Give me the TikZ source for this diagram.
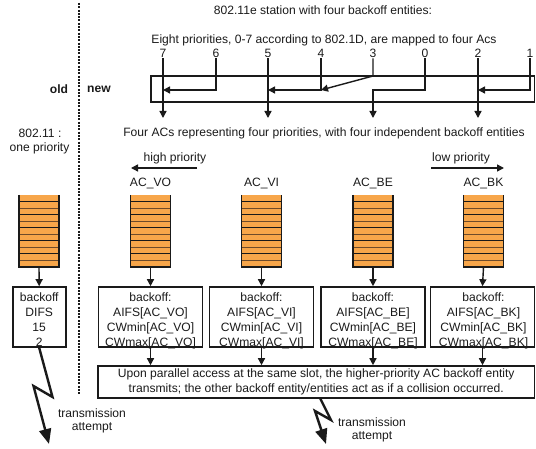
\documentclass[tikz,border=0pt]{standalone}
\usepackage{fontspec}
\setmainfont{Liberation Sans}
\usetikzlibrary{arrows.meta}
\definecolor{qorange}{HTML}{F7A64A}
\definecolor{qbrown}{HTML}{6E4B2A}
\definecolor{ink}{HTML}{1A1A1A}
\newcommand{\drawqueue}[2]{%
  \node[qnode] (#1) at (#2,231) {};
  \foreach \i in {1,3,...,9} {\draw[stripe] (#2-20,195+\i*6.545) -- (#2+20,195+\i*6.545);}
  \foreach \i in {2,4,...,10} {\draw[stripe,qbrown] (#2-20,195+\i*6.545) -- (#2+20,195+\i*6.545);}
  \draw[qside] (#2-20,195) -- (#2-20,267) -- (#2+20,267) -- (#2+20,195);
}
\begin{document}
\begin{tikzpicture}[x=1pt,y=-1pt,
  every node/.style={text=ink},
  lbl/.style={font=\fontsize{12.1}{14}\selectfont, inner sep=1pt},
  btxt/.style={font=\fontsize{12.1}{14.8}\selectfont, inner sep=0pt, align=center, anchor=base},
  mapline/.style={draw=ink, line width=1.4pt},
  arr/.style={draw=ink, line width=1.4pt, -{Triangle[length=7pt,width=7pt]}},
  bolt/.style={draw=ink, line width=2.4pt, line join=miter, -{Triangle[length=15pt,width=12pt]}},
  qnode/.style={fill=qorange, minimum width=40pt, minimum height=72pt, inner sep=0pt, draw=none},
  stripe/.style={draw=ink, line width=0.9pt},
  qside/.style={draw=ink, line width=1.8pt},
  bbox/.style={draw=ink, line width=1.6pt, minimum width=104pt, minimum height=60pt, inner sep=0pt},
  sep/.style={draw=ink, line width=1.5pt, dash pattern=on 2pt off 1.3pt}
]
\useasboundingbox (0,0) rectangle (536,449);

% separator
\coordinate (s1) at (79,3);
\coordinate (s2) at (79,395);
\draw[sep] (s1) -- (s2);
\node[lbl] (old) at (59,89) {\textbf{old}};
\node[lbl] (new) at (99,89) {\textbf{new}};

% titles
\node[lbl] (t1) at (323,10) {802.11e station with four backoff entities:};
\node[lbl] (t2) at (324,40) {Eight priorities, 0-7 according to 802.1D, are mapped to four Acs};
\node[lbl] (t3) at (324,133) {Four ACs representing four priorities, with four independent backoff entities};
\node[lbl] (o1) at (40,133) {802.11 :};
\node[lbl] (o2) at (39.5,148) {one priority};

% priority numbers
\node[lbl] (n7) at (163,53) {7};
\node[lbl] (n6) at (216,53) {6};
\node[lbl] (n5) at (268,53) {5};
\node[lbl] (n4) at (321,53) {4};
\node[lbl] (n3) at (373,53) {3};
\node[lbl] (n0) at (425,53) {0};
\node[lbl] (n2) at (478,53) {2};
\node[lbl] (n1) at (530,53) {1};

% mapping frame
\coordinate (fr1) at (151,76);
\coordinate (fr2) at (534.5,102);
\draw[mapline] (fr1) rectangle (fr2);
\coordinate (e7) at (163,118);
\coordinate (e5) at (268,118);
\coordinate (e0) at (373,118);
\coordinate (e2) at (478,118);
\coordinate (m7) at (163,90);
\coordinate (m5) at (268,90);
\coordinate (m4) at (321,90);
\coordinate (m0) at (373,90);
\coordinate (m2) at (478,90);
\coordinate (k3) at (373,76);
\draw[arr] (n7.south) -- (e7);
\draw[arr] (n6.south) |- (m7);
\draw[arr] (n5.south) -- (e5);
\draw[arr] (n4.south) |- (m5);
\draw[arr] (n3.south) -- (k3) -- (m4);
\draw[arr] (n0.south) |- (m0) -- (e0);
\draw[arr] (n2.south) -- (e2);
\draw[arr] (n1.south) |- (m2);

% priority arrows
\node[lbl] (hp) at (175,158) {high priority};
\node[lbl] (lp) at (461,158) {low priority};
\coordinate (hpa) at (197,168);
\coordinate (hpb) at (131,168);
\coordinate (lpa) at (431,168);
\coordinate (lpb) at (504,168);
\draw[arr] (hpa) -- (hpb);
\draw[arr] (lpa) -- (lpb);

% AC labels
\node[lbl] (lVO) at (150.5,183) {AC\_VO};
\node[lbl] (lVI) at (261.5,183) {AC\_VI};
\node[lbl] (lBE) at (373,183) {AC\_BE};
\node[lbl] (lBK) at (483.5,183) {AC\_BK};

% queues
\drawqueue{qOld}{39}
\drawqueue{qVO}{150.5}
\drawqueue{qVI}{261.5}
\drawqueue{qBE}{373}
\drawqueue{qBK}{483.5}

% backoff boxes
\node[bbox, minimum width=53pt] (bOld) at (39.2,317) {};
\node[bbox] (bVO) at (150.5,317) {};
\node[bbox] (bVI) at (261.5,317) {};
\node[bbox] (bBE) at (373,317) {};
\node[bbox] (bBK) at (482.5,317) {};
\node[btxt] (xOld) at (39.2,346) {backoff\\DIFS\\15\\2};
\node[btxt] (xVO) at (150.5,346) {backoff:\\AIFS[AC\_VO]\\CWmin[AC\_VO]\\CWmax[AC\_VO]};
\node[btxt] (xVI) at (261.5,346) {backoff:\\AIFS[AC\_VI]\\CWmin[AC\_VI]\\CWmax[AC\_VI]};
\node[btxt] (xBE) at (373,346) {backoff:\\AIFS[AC\_BE]\\CWmin[AC\_BE]\\CWmax[AC\_BE]};
\node[btxt] (xBK) at (483.5,346) {backoff:\\AIFS[AC\_BK]\\CWmin[AC\_BK]\\CWmax[AC\_BK]};

\foreach \q/\b in {qOld/bOld,qVO/bVO,qVI/bVI,qBE/bBE,qBK/bBK} {\draw[arr] (\q.south) -- (\b.north);}

% arbitration box
\node[draw=ink, line width=1.6pt, minimum width=436.5pt, minimum height=32pt, inner sep=0pt,
      font=\fontsize{12.1}{15}\selectfont, align=center] (up) at (316.25,382)
  {Upon parallel access at the same slot, the higher-priority AC backoff entity\\
   transmits; the other backoff entity/entities act as if a collision occurred.};
\foreach \b in {bVO,bVI,bBE,bBK} {\draw[arr] (\b.south) -- (\b.south |- up.north);}

% transmission attempts
\coordinate (la) at (52.5,397);
\coordinate (lb) at (33.5,386);
\coordinate (lc) at (49,444);
\draw[bolt] (bOld.south) -- (la) -- (lb) -- (lc);
\node[lbl] (ta1) at (92,413) {transmission};
\node[lbl] (ta2) at (92,428) {attempt};

\coordinate (r0) at (320,398);
\coordinate (ra) at (331,420);
\coordinate (rb) at (315,411);
\coordinate (rc) at (326,444);
\draw[bolt] (r0) -- (ra) -- (rb) -- (rc);
\node[lbl] (tb1) at (372,422) {transmission};
\node[lbl] (tb2) at (372,437) {attempt};
\end{tikzpicture}
\end{document}
